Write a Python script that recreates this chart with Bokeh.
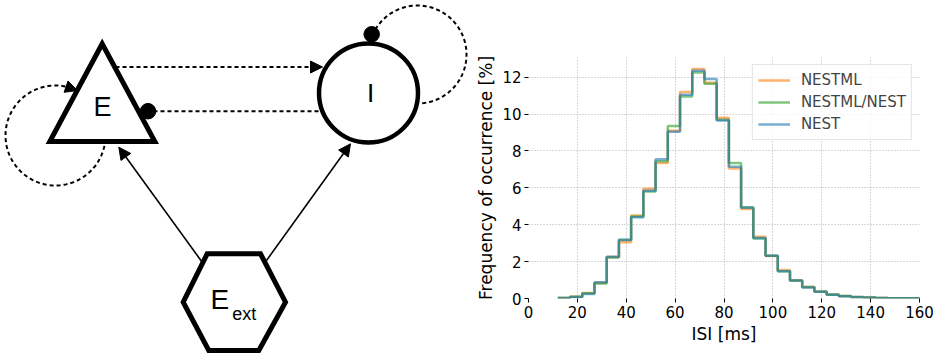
import numpy as np
from bokeh.plotting import figure
from bokeh.layouts import row, column
from bokeh.models import Range1d, Arrow, NormalHead, FixedTicker
from bokeh.core.properties import value
from bokeh.embed import file_html
from bokeh.resources import INLINE

# ---------------- histogram data (ISI distribution, %) ----------------
bin_edges = [12, 17, 22, 27, 32, 37, 42, 47, 52, 57, 62, 67, 72, 77, 82, 87,
             92, 97, 102, 107, 112, 117, 122, 127, 132, 137, 142, 147, 152, 157, 162]
nestml = [0.03, 0.10, 0.30, 0.85, 2.25, 3.05, 4.50, 5.95, 7.35, 9.10, 11.20, 12.45,
          11.70, 9.80, 7.05, 4.85, 3.35, 2.30, 1.55, 0.98, 0.62, 0.38, 0.20, 0.13,
          0.08, 0.05, 0.03, 0.02, 0.01, 0.01]
nestml_nest = [0.03, 0.10, 0.28, 0.82, 2.22, 3.18, 4.45, 5.80, 7.45, 9.35, 10.95, 12.25,
               11.65, 9.70, 7.35, 4.95, 3.25, 2.32, 1.48, 0.98, 0.62, 0.36, 0.22, 0.13,
               0.07, 0.05, 0.03, 0.02, 0.01, 0.01]
nest = [0.03, 0.08, 0.25, 0.88, 2.27, 3.17, 4.40, 5.85, 7.55, 9.05, 11.05, 12.35,
        11.90, 9.65, 7.15, 4.92, 3.28, 2.32, 1.48, 0.97, 0.60, 0.37, 0.20, 0.12,
        0.08, 0.05, 0.03, 0.02, 0.01, 0.01]
series_names = ["NESTML", "NESTML/NEST", "NEST"]
series_colors = ["#ff7f0e", "#2ca02c", "#1f77b4"]
x_ticks = [0, 20, 40, 60, 80, 100, 120, 140, 160]
y_ticks = [0, 2, 4, 6, 8, 10, 12]

# ---------------- network diagram (page pixel coordinates) ----------------
tri_x = [101.7, 49.3, 154.3]
tri_y = [43.3, 141.0, 141.0]
circ_center = (368.0, 92.5)
circ_r = 49.5
hex_x = [182.7, 206.7, 260.0, 285.0, 258.3, 208.3]
hex_y = [301.7, 253.3, 253.3, 301.7, 350.0, 350.0]
e_loop = dict(cx=55.0, cy=135.0, r=50.0, a0=12.0, a1=282.0, tip=296.0)
i_loop = dict(cx=417.0, cy=54.0, r=49.0, a0=84.5, a1=-152.0)

FONT_D = "Liberation Sans"
FONT_H = "DejaVu Sans"

# ================= diagram figure =================
d = figure(width=470, height=358, x_range=Range1d(0, 470), y_range=Range1d(358, 0),
           output_backend="svg", toolbar_location=None,
           x_axis_location=None, y_axis_location=None, min_border=0)
d.outline_line_color = None
d.grid.visible = False

# solid arrows from E_ext
for (xs, ys, xe, ye) in [(201.7, 261.7, 118.3, 146.7), (266.0, 260.0, 350.0, 143.3)]:
    d.add_layout(Arrow(x_start=xs, y_start=ys, x_end=xe, y_end=ye, line_width=1.6,
                       line_color="black",
                       end=NormalHead(size=12, fill_color="black", line_color="black", line_width=1)))

# E self loop (dashed arc with arrow)
th = np.radians(np.linspace(e_loop["a0"], e_loop["a1"], 120))
d.line(e_loop["cx"] + e_loop["r"] * np.cos(th), e_loop["cy"] + e_loop["r"] * np.sin(th),
       line_color="black", line_width=2, line_dash="4 3")
a1, at = np.radians(e_loop["a1"]), np.radians(e_loop["tip"])
d.add_layout(Arrow(x_start=e_loop["cx"] + e_loop["r"] * np.cos(a1), y_start=e_loop["cy"] + e_loop["r"] * np.sin(a1),
                   x_end=e_loop["cx"] + e_loop["r"] * np.cos(at), y_end=e_loop["cy"] + e_loop["r"] * np.sin(at),
                   line_width=2, line_color="black",
                   end=NormalHead(size=12, fill_color="black", line_color="black", line_width=1)))

# I self loop (dashed arc ending in dot)
th = np.radians(np.linspace(i_loop["a0"], i_loop["a1"], 120))
d.line(i_loop["cx"] + i_loop["r"] * np.cos(th), i_loop["cy"] + i_loop["r"] * np.sin(th),
       line_color="black", line_width=2, line_dash="4 3")

# E -> I dashed arrow
d.add_layout(Arrow(x_start=115.0, y_start=66.5, x_end=322.0, y_end=66.5, line_width=2,
                   line_color="black", line_dash="4 3",
                   end=NormalHead(size=12, fill_color="black", line_color="black", line_width=1)))
# I -> E dashed inhibitory
d.line([318.0, 147.5], [110.7, 110.7], line_color="black", line_width=2, line_dash="4 3")

# nodes
d.patch(tri_x, tri_y, fill_color="white", line_color="black", line_width=5, line_join="miter")
d.circle([circ_center[0]], [circ_center[1]], radius=circ_r, fill_color="white",
         line_color="black", line_width=4.5)
d.patch(hex_x, hex_y, fill_color="white", line_color="black", line_width=5, line_join="miter")

# inhibitory dots
d.scatter([147.5, 371.2], [110.7, 33.8], marker="circle", size=15.5, color="black")

# labels
d.text([102.0], [106.5], text=["E"], text_font=value(FONT_D), text_font_size="27px",
       text_align="center", text_baseline="alphabetic", text_color="black")
d.text([370.0], [92.5], text=["I"], text_font=value(FONT_D), text_font_size="26px",
       text_align="center", text_baseline="alphabetic", text_color="black")
d.text([219.3], [299.3], text=["E"], text_font=value(FONT_D), text_font_size="28px",
       text_align="center", text_baseline="alphabetic", text_color="black")
d.text([231.7], [313.0], text=["ext"], text_font=value(FONT_D), text_font_size="18px",
       text_align="left", text_baseline="alphabetic", text_color="black")

# ================= histogram figure =================
p = figure(width=465, height=358, x_range=Range1d(0, 160), y_range=Range1d(0, 13.07),
           output_backend="svg", toolbar_location=None,
           min_border_left=58, min_border_right=16, min_border_top=57, min_border_bottom=60)
p.outline_line_color = None

for vals, name, col in zip([nestml, nestml_nest, nest], series_names, series_colors):
    p.step(bin_edges, vals + [0], mode="after", line_color=col, line_alpha=0.6,
           line_width=2.5, legend_label=name)

p.xaxis.ticker = FixedTicker(ticks=x_ticks)
p.yaxis.ticker = FixedTicker(ticks=y_ticks)
p.xaxis.axis_label = "ISI [ms]"
p.yaxis.axis_label = "Frequency of occurrence [%]"
for ax in (p.xaxis, p.yaxis):
    ax.axis_line_color = None
    ax.major_tick_out = 4
    ax.major_tick_in = 0
    ax.minor_tick_out = 0
    ax.minor_tick_in = 0
    ax.major_tick_line_color = "black"
    ax.major_label_text_font = FONT_H
    ax.major_label_text_font_size = "15px"
    ax.major_label_text_color = "black"
    ax.axis_label_text_font = FONT_H
    ax.axis_label_text_font_size = "17px"
    ax.axis_label_text_font_style = "normal"
    ax.axis_label_text_color = "black"
    ax.major_label_standoff = 3
p.xaxis.axis_label_standoff = 3
p.yaxis.axis_label_standoff = 3

p.grid.grid_line_color = "#b0b0b0"
p.grid.grid_line_dash = "1 2"
p.grid.grid_line_width = 1

p.legend.location = "top_right"
p.legend.margin = 7
p.legend.padding = 5
p.legend.spacing = 2
p.legend.label_height = 20
p.legend.glyph_height = 20
p.legend.glyph_width = 32
p.legend.label_standoff = 11
p.legend.label_text_font = FONT_H
p.legend.label_text_font_size = "15px"
p.legend.border_line_color = "#cccccc"
p.legend.background_fill_alpha = 0.8

layout = row(column(d), column(p))
open("out.html", "w").write(file_html(layout, INLINE))
